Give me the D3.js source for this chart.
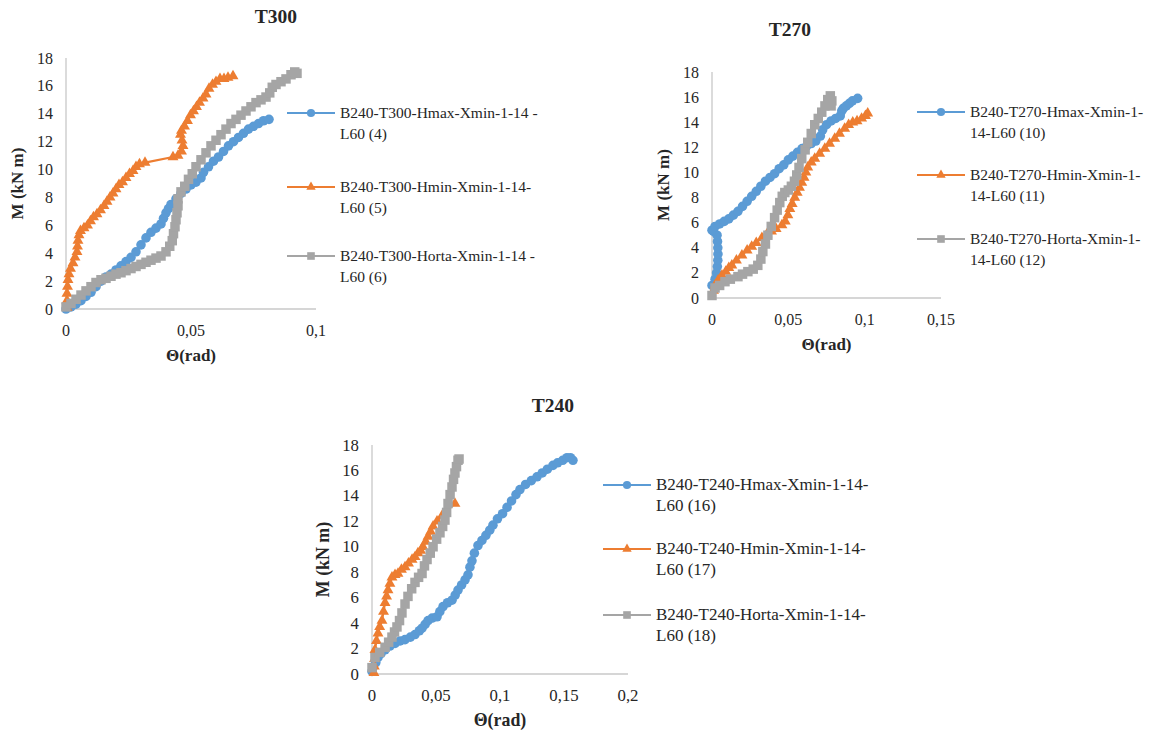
<!DOCTYPE html>
<html><head><meta charset="utf-8">
<script src="https://cdn.jsdelivr.net/npm/d3@7"></script>
<style>
html,body{margin:0;padding:0;background:#fff;}
</style></head>
<body><svg id="c" width="1169" height="731"></svg>
<script>
// ---- data: [theta (rad), M (kN m)] ----
const t300Hmax = [[0,0],[0.002,0.15],[0.004,0.35],[0.006,0.6],[0.008,0.9],[0.010,1.2],[0.012,1.6],[0.014,2.0],[0.016,2.3],[0.018,2.5],[0.020,2.8],[0.022,3.1],[0.024,3.4],[0.026,3.7],[0.028,4.1],[0.030,4.6],[0.032,5.1],[0.034,5.5],[0.036,5.8],[0.038,6.1],[0.039,6.5],[0.040,6.9],[0.041,7.2],[0.042,7.5],[0.044,7.9],[0.046,8.3],[0.048,8.6],[0.050,8.9],[0.052,9.1],[0.054,9.4],[0.055,9.8],[0.057,10.2],[0.059,10.6],[0.061,10.9],[0.063,11.3],[0.065,11.7],[0.067,12.0],[0.069,12.3],[0.071,12.6],[0.073,12.9],[0.075,13.1],[0.077,13.3],[0.079,13.5],[0.0812,13.6]];
const t300Hmin = [[0.0004,0.1],[0.0004,0.6],[0.0004,1.1],[0.0006,1.6],[0.0008,2.1],[0.0012,2.5],[0.0018,2.9],[0.0028,3.3],[0.0036,3.7],[0.0044,4.1],[0.0046,4.5],[0.0048,4.9],[0.0052,5.3],[0.0058,5.6],[0.0072,5.8],[0.0086,6.0],[0.0098,6.3],[0.0110,6.6],[0.0124,6.8],[0.0138,7.1],[0.0152,7.4],[0.0164,7.7],[0.0176,8.0],[0.0188,8.3],[0.0200,8.6],[0.0212,8.9],[0.0226,9.1],[0.0240,9.4],[0.0254,9.7],[0.0268,9.9],[0.0280,10.2],[0.0294,10.4],[0.0316,10.5],[0.0428,10.9],[0.0448,11.0],[0.0462,11.3],[0.0468,11.7],[0.0464,12.1],[0.0458,12.5],[0.0462,12.8],[0.0474,13.1],[0.0486,13.5],[0.0498,13.9],[0.0510,14.2],[0.0522,14.5],[0.0534,14.8],[0.0548,15.1],[0.0560,15.4],[0.0572,15.8],[0.0586,16.1],[0.0600,16.3],[0.0616,16.5],[0.0632,16.5],[0.0648,16.6],[0.0668,16.7]];
const t300Horta = [[0,0.15],[0.002,0.4],[0.004,0.7],[0.006,1.0],[0.008,1.3],[0.010,1.6],[0.012,1.9],[0.014,2.1],[0.016,2.2],[0.018,2.35],[0.020,2.5],[0.022,2.6],[0.024,2.75],[0.026,2.9],[0.028,3.05],[0.030,3.2],[0.032,3.35],[0.034,3.5],[0.036,3.65],[0.038,3.8],[0.040,4.1],[0.0415,4.5],[0.0425,4.9],[0.043,5.4],[0.0436,5.9],[0.044,6.4],[0.0444,6.9],[0.0448,7.4],[0.0448,7.9],[0.046,8.4],[0.0475,8.8],[0.049,9.3],[0.0505,9.7],[0.052,10.2],[0.054,10.7],[0.056,11.2],[0.058,11.7],[0.060,12.1],[0.062,12.5],[0.064,12.9],[0.066,13.3],[0.068,13.6],[0.070,13.9],[0.072,14.2],[0.074,14.5],[0.076,14.8],[0.078,15.0],[0.080,15.2],[0.0815,15.5],[0.0825,15.9],[0.084,16.1],[0.086,16.3],[0.088,16.5],[0.090,16.8],[0.0915,17.0],[0.0924,16.9]];

const t270Hmax = [[0,1.0],[0.002,1.5],[0.003,2.0],[0.0035,2.5],[0.0038,3.0],[0.0039,3.5],[0.0038,4.0],[0.0036,4.5],[0.0033,5.0],[0.001,5.3],[0,5.4],[0.002,5.7],[0.005,5.9],[0.008,6.1],[0.011,6.3],[0.014,6.6],[0.017,6.9],[0.020,7.3],[0.023,7.7],[0.026,8.1],[0.029,8.5],[0.032,8.9],[0.035,9.3],[0.038,9.6],[0.041,9.9],[0.044,10.3],[0.047,10.6],[0.050,11.0],[0.053,11.3],[0.056,11.6],[0.059,11.9],[0.062,12.1],[0.065,12.3],[0.068,12.5],[0.071,12.9],[0.0725,13.4],[0.075,13.8],[0.078,14.1],[0.081,14.3],[0.084,14.5],[0.085,14.9],[0.086,15.1],[0.088,15.3],[0.090,15.5],[0.092,15.7],[0.0954,15.9]];
const t270Hmin = [[0.001,0.6],[0.002,1.0],[0.004,1.4],[0.0065,1.8],[0.009,2.1],[0.011,2.4],[0.013,2.6],[0.016,3.0],[0.0196,3.4],[0.023,3.8],[0.026,4.1],[0.029,4.4],[0.0327,4.8],[0.036,5.1],[0.039,5.3],[0.042,5.5],[0.0458,5.8],[0.048,6.1],[0.0497,6.6],[0.051,7.1],[0.0525,7.5],[0.0542,8.0],[0.0558,8.4],[0.0573,8.8],[0.0588,9.2],[0.0603,9.6],[0.0615,10.0],[0.0627,10.4],[0.065,10.8],[0.0673,11.1],[0.0705,11.5],[0.0739,11.9],[0.077,12.3],[0.0804,12.7],[0.0835,13.1],[0.0869,13.5],[0.0895,13.8],[0.0922,14.0],[0.095,14.1],[0.098,14.3],[0.1005,14.5],[0.102,14.7]];
const t270Horta = [[0,0.2],[0.002,0.8],[0.005,1.0],[0.0085,1.3],[0.012,1.5],[0.017,1.7],[0.020,1.9],[0.0235,2.1],[0.027,2.3],[0.030,2.6],[0.032,3.1],[0.0333,3.7],[0.035,4.3],[0.0366,5.0],[0.0388,5.7],[0.041,6.4],[0.0427,7.0],[0.0444,7.6],[0.046,8.1],[0.0477,8.4],[0.050,8.6],[0.052,8.9],[0.054,9.3],[0.0555,9.8],[0.057,10.4],[0.0588,11.1],[0.061,11.8],[0.0627,12.4],[0.065,13.1],[0.0673,13.8],[0.0696,14.3],[0.0719,14.8],[0.074,15.3],[0.0758,15.8],[0.0775,16.1],[0.0785,15.7],[0.078,15.3]];

const t240Hmax = [[0,0.2],[0.0008,0.55],[0.003,0.9],[0.0047,1.3],[0.007,1.6],[0.0102,1.9],[0.014,2.2],[0.018,2.4],[0.022,2.6],[0.0258,2.7],[0.030,2.9],[0.0336,3.1],[0.037,3.4],[0.0391,3.6],[0.0415,3.9],[0.0438,4.2],[0.047,4.4],[0.0508,4.5],[0.053,4.9],[0.0555,5.3],[0.059,5.6],[0.0625,5.8],[0.065,6.2],[0.0672,6.6],[0.070,7.0],[0.0727,7.4],[0.075,7.8],[0.0765,8.4],[0.0781,8.9],[0.080,9.5],[0.0828,10.1],[0.0859,10.5],[0.089,10.9],[0.092,11.3],[0.0945,11.7],[0.098,12.2],[0.102,12.6],[0.1055,13.1],[0.109,13.6],[0.1125,14.1],[0.1156,14.5],[0.120,14.9],[0.1245,15.2],[0.1289,15.5],[0.133,15.8],[0.137,16.1],[0.1414,16.4],[0.145,16.6],[0.149,16.8],[0.1523,17.0],[0.155,17.0],[0.157,16.8]];
const t240Hmin = [[0.0015,0.1],[0.0018,0.6],[0.002,1.2],[0.0023,1.9],[0.0035,2.6],[0.0047,3.2],[0.006,3.7],[0.0078,4.2],[0.009,4.9],[0.0102,5.6],[0.0114,6.1],[0.0125,6.6],[0.014,7.1],[0.0156,7.6],[0.018,7.8],[0.0203,7.9],[0.023,8.2],[0.0258,8.4],[0.0285,8.7],[0.0313,9.0],[0.0336,9.2],[0.0359,9.5],[0.038,9.7],[0.0398,10.0],[0.042,10.4],[0.0438,10.8],[0.0458,11.2],[0.0477,11.6],[0.0508,12.0],[0.055,12.5],[0.0648,13.4]];
const t240Horta = [[0,0.5],[0.0023,1.3],[0.006,1.7],[0.0102,2.1],[0.013,2.5],[0.0156,2.9],[0.0176,3.3],[0.0195,3.7],[0.0215,4.2],[0.0234,4.8],[0.0258,5.5],[0.0281,6.1],[0.031,6.7],[0.0336,7.2],[0.0364,7.6],[0.0391,7.9],[0.041,8.5],[0.043,9.0],[0.0455,9.5],[0.0477,10.0],[0.0505,10.6],[0.0531,11.1],[0.0552,11.6],[0.057,12.1],[0.0583,12.7],[0.0594,13.4],[0.061,14.1],[0.0625,14.7],[0.0637,15.3],[0.0648,15.8],[0.066,16.3],[0.0672,16.8],[0.068,16.9]];

const yTicks = [0,2,4,6,8,10,12,14,16,18];
const xTicksT300 = [0,0.05,0.1];
const xTicksT270 = [0,0.05,0.1,0.15];
const xTicksT240 = [0,0.05,0.1,0.15,0.2];
const titles = ["T300","T270","T240"];
const legendT300 = [["B240-T300-Hmax-Xmin-1-14 -","L60 (4)"],["B240-T300-Hmin-Xmin-1-14-","L60 (5)"],["B240-T300-Horta-Xmin-1-14 -","L60 (6)"]];
const legendT270 = [["B240-T270-Hmax-Xmin-1-","14-L60 (10)"],["B240-T270-Hmin-Xmin-1-","14-L60 (11)"],["B240-T270-Horta-Xmin-1-","14-L60 (12)"]];
const legendT240 = [["B240-T240-Hmax-Xmin-1-14-","L60 (16)"],["B240-T240-Hmin-Xmin-1-14-","L60 (17)"],["B240-T240-Horta-Xmin-1-14-","L60 (18)"]];
const colors = ["#5B9BD5","#ED7D31","#A5A5A5"];
const shapes = [d3.symbolCircle, d3.symbolTriangle, d3.symbolSquare];
const symSizes = [72, 52, 90];
const legSizes = [52, 38, 58];
const FONT = "'Liberation Serif','Times New Roman',Times,serif";

const svg = d3.select("#c");
const fmt = v => v === 0 ? "0" : String(v).replace(".", ",");

function txt(g){ return g.append("text").attr("font-family",FONT).attr("fill","#262626"); }

function chart(cfg){
  const k = cfg.fs;
  const x = d3.scaleLinear().domain([0, cfg.xMax]).range([cfg.x0, cfg.x1]);
  const y = d3.scaleLinear().domain([0, 18]).range([cfg.y0, cfg.y1]);
  const g = svg.append("g");
  g.append("line").attr("x1",cfg.x0).attr("x2",cfg.x0).attr("y1",cfg.y0).attr("y2",cfg.y1).attr("stroke","#C8C8C8").attr("stroke-width",1.3);
  g.append("line").attr("x1",cfg.x0).attr("x2",cfg.x1).attr("y1",cfg.y0).attr("y2",cfg.y0).attr("stroke","#C8C8C8").attr("stroke-width",1.3);
  yTicks.forEach(d=>{
    txt(g).attr("x",cfg.x0-13).attr("y",y(d)+5.5).attr("text-anchor","end").attr("font-size",16*k).text(d);
  });
  cfg.xTicks.forEach(d=>{
    txt(g).attr("x",x(d)).attr("y",cfg.y0+27).attr("text-anchor","middle").attr("font-size",16*k).text(fmt(d));
  });
  txt(g).attr("x",(cfg.x0+cfg.x1)/2).attr("y",cfg.y0+52).attr("text-anchor","middle")
    .attr("font-size",17*k).attr("font-weight","bold").text("Θ(rad)");
  txt(g).attr("transform",`translate(${cfg.x0-43},${(cfg.y0+cfg.y1)/2}) rotate(-90)`)
    .attr("text-anchor","middle").attr("font-size",17*k).attr("font-weight","bold").text("M (kN m)");
  txt(g).attr("x",cfg.tx).attr("y",cfg.ty).attr("text-anchor","middle")
    .attr("font-size",19.5).attr("font-weight","bold").text(cfg.title);
  const line = d3.line().x(d=>x(d[0])).y(d=>y(d[1]));
  cfg.series.forEach((s,i)=>{
    g.append("path").attr("d",line(s)).attr("fill","none").attr("stroke",colors[i]).attr("stroke-width",2.2).attr("stroke-linejoin","round");
    g.selectAll(null).data(s).enter().append("path")
      .attr("d",d3.symbol().type(shapes[i]).size(symSizes[i]))
      .attr("transform",d=>`translate(${x(d[0])},${y(d[1])})`)
      .attr("fill",colors[i]);
  });
  cfg.legend.forEach((lab,i)=>{
    const ly = cfg.ly[i];
    g.append("line").attr("x1",cfg.lx).attr("x2",cfg.lx+48).attr("y1",ly).attr("y2",ly).attr("stroke",colors[i]).attr("stroke-width",2.2);
    g.append("path").attr("d",d3.symbol().type(shapes[i]).size(legSizes[i])).attr("transform",`translate(${cfg.lx+24},${ly})`).attr("fill",colors[i]);
    txt(g).attr("x",cfg.lx+53).attr("y",ly+5).attr("font-size",cfg.lfs).text(lab[0]);
    txt(g).attr("x",cfg.lx+53).attr("y",ly+26).attr("font-size",cfg.lfs).text(lab[1]);
  });
}

chart({title:titles[0], tx:276, ty:23, x0:66, x1:316, y0:309, y1:58, xMax:0.1, xTicks:xTicksT300, fs:1, lfs:15.5,
  series:[t300Hmax,t300Hmin,t300Horta], legend:legendT300, lx:287, ly:[113,187,256]});
chart({title:titles[1], tx:790, ty:36, x0:712, x1:941, y0:298, y1:72, xMax:0.15, xTicks:xTicksT270, fs:1, lfs:15.5,
  series:[t270Hmax,t270Hmin,t270Horta], legend:legendT270, lx:917, ly:[112,175,239]});
chart({title:titles[2], tx:553, ty:412, x0:372, x1:628, y0:674, y1:445, xMax:0.2, xTicks:xTicksT240, fs:1.05, lfs:17,
  series:[t240Hmax,t240Hmin,t240Horta], legend:legendT240, lx:603, ly:[485,549,615]});
</script></body></html>
